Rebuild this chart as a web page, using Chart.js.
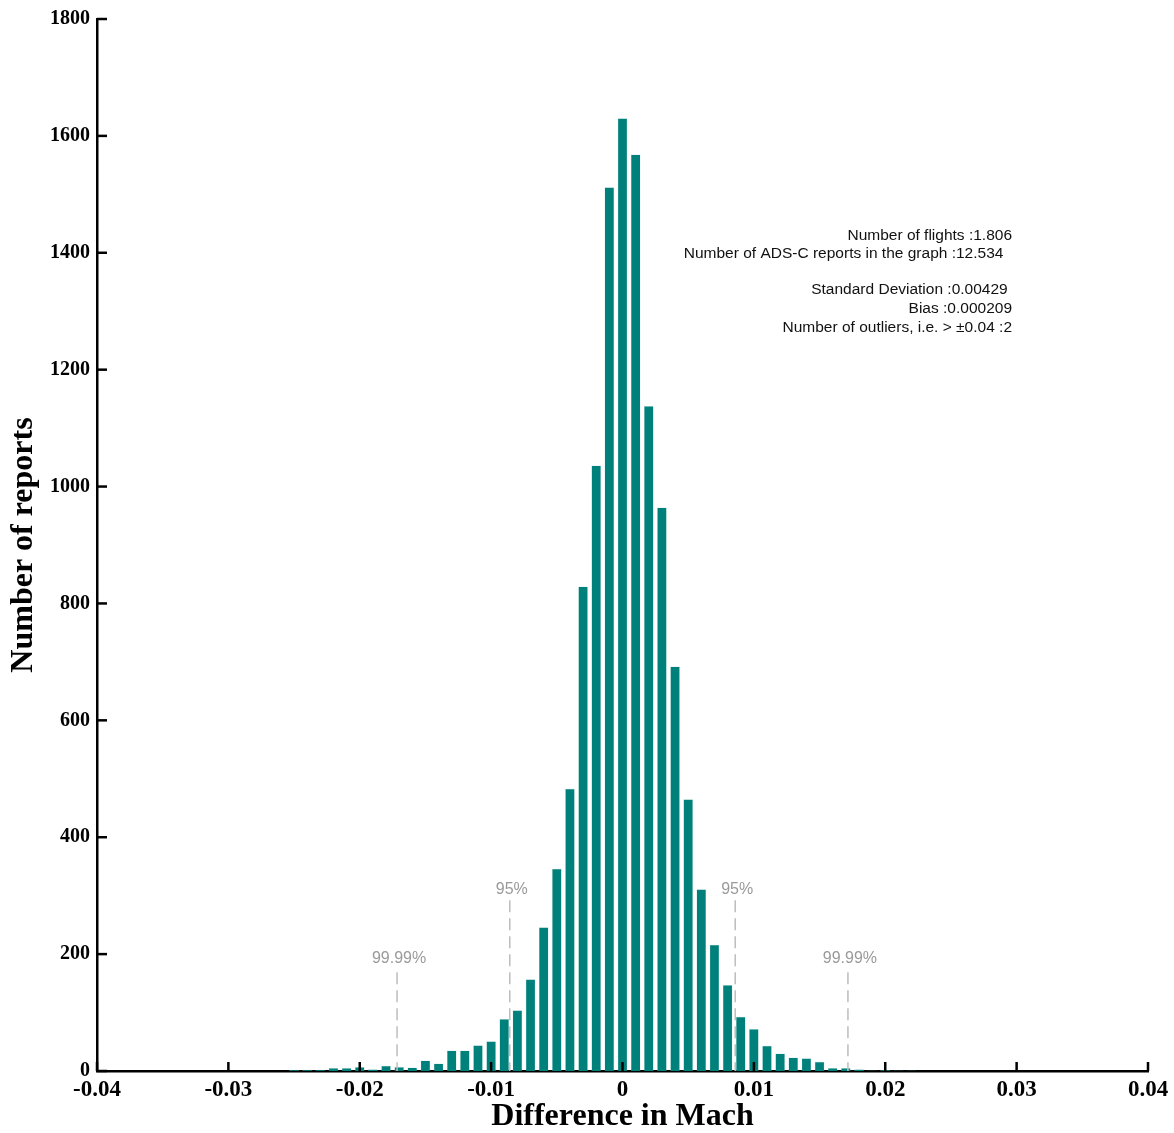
<!DOCTYPE html>
<html>
<head>
<meta charset="utf-8">
<script src="https://cdn.jsdelivr.net/npm/chart.js@4.4.0/dist/chart.umd.min.js"></script>
<style>
  html, body { margin: 0; padding: 0; background: #fff; }
  #wrap { width: 1174px; height: 1133px; }
</style>
</head>
<body>
<div id="wrap"><canvas id="hist-chart" width="1174" height="1133"></canvas></div>
<script>
// bin centres (Mach difference) and report counts
const binCenters = [
  -0.025, -0.024, -0.023, -0.022, -0.021, -0.020, -0.019, -0.018, -0.017, -0.016,
  -0.015, -0.014, -0.013, -0.012, -0.011, -0.010, -0.009, -0.008, -0.007, -0.006,
  -0.005, -0.004, -0.003, -0.002, -0.001, 0.000, 0.001, 0.002, 0.003, 0.004,
  0.005, 0.006, 0.007, 0.008, 0.009, 0.010, 0.011, 0.012, 0.013, 0.014,
  0.015, 0.016, 0.017, 0.018, 0.019, 0.020, 0.021, 0.022
];
const reportCounts = [
  2, 2, 2, 5, 5, 7, 3, 9, 7, 6,
  18, 13, 35, 35, 44, 51, 89, 104, 157, 246,
  346, 483, 829, 1036, 1512, 1630, 1568, 1138, 964, 692,
  465, 311, 216, 147, 93, 72, 43, 30, 23, 22,
  16, 5, 5, 3, 1, 2, 1, 1
];

// dashed markers: +-2 sigma (95%) and +-4 sigma (99.99%)
const markerValues = [-0.00858, 0.00858, -0.01716, 0.01716];
const markerLabels = ['95%', '95%', '99.99%', '99.99%'];
const markerTops = [292, 292, 169, 169];
const markerLabelLevels = [311, 311, 192, 192];

const statLines = [
  'Number of flights :1.806',
  'Number of ADS-C reports in the graph :12.534  ',
  '',
  'Standard Deviation :0.00429 ',
  'Bias :0.000209',
  'Number of outliers, i.e. > \u00b10.04 :2'
];

const xTicks = [-0.04, -0.03, -0.02, -0.01, 0, 0.01, 0.02, 0.03, 0.04];
const yTicks = [0, 200, 400, 600, 800, 1000, 1200, 1400, 1600, 1800];

const serif = "'Liberation Serif', 'Times New Roman', serif";
const sans = "'Liberation Sans', Arial, sans-serif";

const histData = {
  datasets: [{
    data: binCenters.map((b, i) => ({ x: b, y: reportCounts[i] })),
    backgroundColor: '#00807b',
    borderColor: 'rgba(150, 210, 205, 0.6)',
    borderWidth: 0.5,
    barPercentage: 0.74,
    categoryPercentage: 1
  }]
};

// tick marks point inwards, so draw them by hand from the scales
const insideTicks = {
  id: 'insideTicks',
  afterDatasetsDraw(chart) {
    const ctx = chart.ctx;
    const area = chart.chartArea;
    const xs = chart.scales.x;
    const ys = chart.scales.y;
    ctx.save();
    ctx.strokeStyle = '#000';
    ctx.lineWidth = 2.5;
    xTicks.forEach(v => {
      const px = xs.getPixelForValue(v);
      ctx.beginPath();
      ctx.moveTo(px, area.bottom);
      ctx.lineTo(px, area.bottom - 9);
      ctx.stroke();
    });
    yTicks.forEach(v => {
      const py = ys.getPixelForValue(v);
      ctx.beginPath();
      ctx.moveTo(area.left, py);
      ctx.lineTo(area.left + 10, py);
      ctx.stroke();
    });
    ctx.restore();
  }
};

const markers = {
  id: 'markers',
  afterDatasetsDraw(chart) {
    const ctx = chart.ctx;
    const xs = chart.scales.x;
    const ys = chart.scales.y;
    ctx.save();
    markerValues.forEach((v, i) => {
      const px = xs.getPixelForValue(v);
      ctx.strokeStyle = '#bdbdbd';
      ctx.lineWidth = 1.5;
      ctx.setLineDash([12, 6]);
      ctx.beginPath();
      ctx.moveTo(px, ys.getPixelForValue(markerTops[i]));
      ctx.lineTo(px, ys.getPixelForValue(0));
      ctx.stroke();
      ctx.setLineDash([]);
      ctx.fillStyle = '#9a9a9a';
      ctx.font = '16px ' + sans;
      ctx.textAlign = 'center';
      ctx.textBaseline = 'middle';
      ctx.fillText(markerLabels[i], px + 2, ys.getPixelForValue(markerLabelLevels[i]));
    });
    ctx.restore();
  }
};

const stats = {
  id: 'stats',
  afterDraw(chart) {
    const ctx = chart.ctx;
    const area = chart.chartArea;
    ctx.save();
    ctx.fillStyle = '#111';
    ctx.font = '15.5px ' + sans;
    ctx.textAlign = 'right';
    ctx.textBaseline = 'middle';
    const right = area.left + 915;
    const top = area.top + 217;
    const lineGap = [0, 18, 36, 54, 73, 92];
    statLines.forEach((t, i) => {
      if (t) ctx.fillText(t, right, top + lineGap[i]);
    });
    ctx.restore();
  }
};

const histOptions = {
  responsive: false,
  animation: { duration: 0 },
  layout: { padding: { left: 0, right: 26, top: 19, bottom: 0 } },
  plugins: {
    legend: { display: false },
    tooltip: { enabled: false }
  },
  scales: {
    x: {
      type: 'linear',
      min: -0.04,
      max: 0.04,
      offset: false,
      grid: { display: false, drawTicks: false },
      border: { display: true, color: '#000', width: 2.5 },
      afterBuildTicks: s => { s.ticks = xTicks.map(v => ({ value: v })); },
      afterFit: s => { s.height = 62; },
      ticks: {
        color: '#000',
        padding: 5,
        maxRotation: 0,
        font: { family: serif, size: 23, weight: 'bold' },
        callback: v => String(Math.round(v * 100) / 100)
      },
      title: {
        display: true,
        text: 'Difference in Mach',
        color: '#000',
        padding: { top: 0, bottom: 0 },
        font: { family: serif, size: 32, weight: 'bold', lineHeight: 1 }
      }
    },
    y: {
      min: 0,
      max: 1800,
      grid: { display: false, drawTicks: false },
      border: { display: true, color: '#000', width: 2.5 },
      afterBuildTicks: s => { s.ticks = yTicks.map(v => ({ value: v })); },
      afterFit: s => { s.width = 97; },
      ticks: {
        color: '#000',
        padding: 7,
        font: { family: serif, size: 20, weight: 'bold' },
        callback: v => String(v)
      },
      title: {
        display: true,
        text: 'Number of reports',
        color: '#000',
        padding: { top: 8, bottom: 0 },
        font: { family: serif, size: 32, weight: 'bold', lineHeight: 1 }
      }
    }
  }
};

const histChart = new Chart(document.getElementById('hist-chart'), {
  type: 'bar',
  data: histData,
  options: histOptions,
  plugins: [insideTicks, markers, stats]
});
</script>
</body>
</html>
